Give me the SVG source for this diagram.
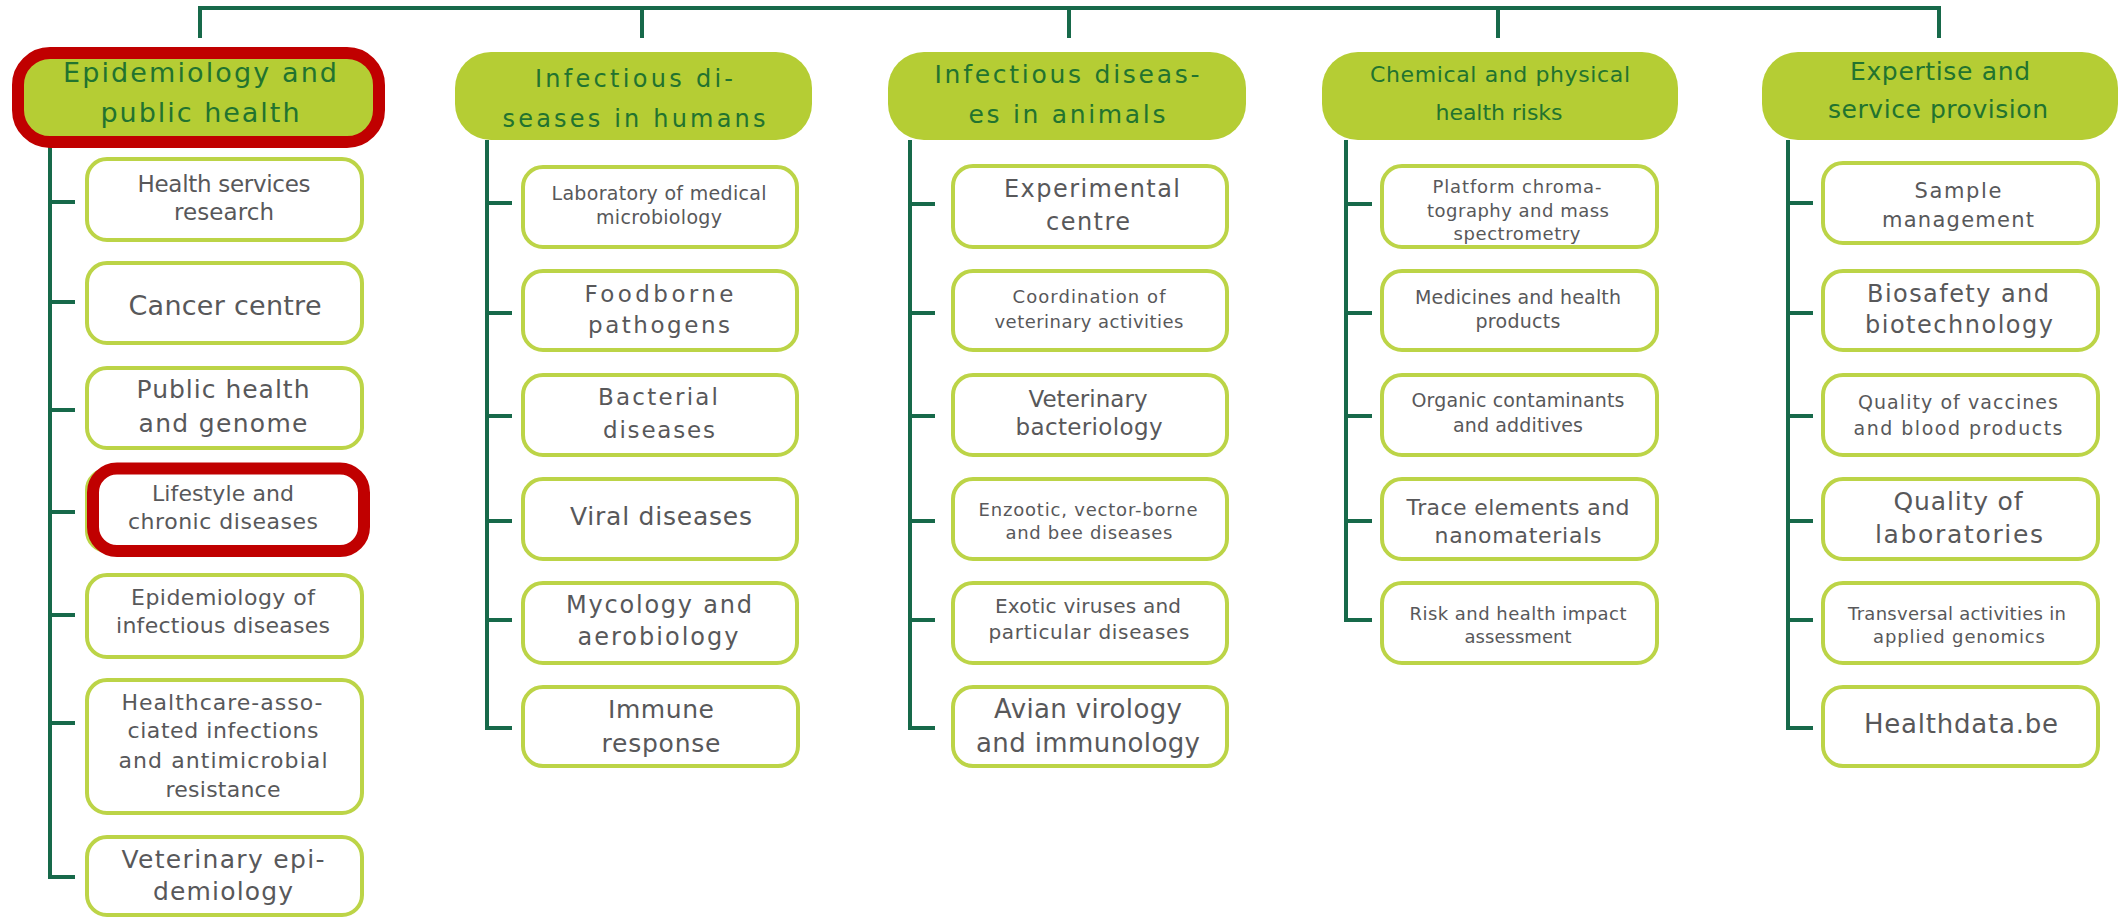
<svg xmlns="http://www.w3.org/2000/svg" width="2118" height="917" viewBox="0 0 2118 917">
<style>
  .bg{fill:#ffffff}
  .conn{fill:none;stroke:#17694a;stroke-width:4;stroke-linecap:butt;stroke-linejoin:miter}
  .head{fill:#b5cd34}
  .sub{fill:#ffffff;stroke:#bcd447;stroke-width:4}
  .hl{fill:none;stroke:#c00000;stroke-width:12}
  .ht{font-family:"DejaVu Sans","Liberation Sans",sans-serif;fill:#22732f;text-anchor:middle}
  .st{font-family:"DejaVu Sans","Liberation Sans",sans-serif;fill:#58585a;text-anchor:middle}
</style>
<rect class="bg" x="0" y="0" width="2118" height="917"/>

<g id="connectors">
  <path class="conn" d="M200 38 V8 H1939 V38"/>
  <path class="conn" d="M642 8 V38"/>
  <path class="conn" d="M1069 8 V38"/>
  <path class="conn" d="M1498 8 V38"/>
  <!-- column 1 -->
  <path class="conn" d="M50 142 V877 H75"/>
  <path class="conn" d="M50 202 H75 M50 302 H75 M50 410 H75 M50 512 H75 M50 615 H75 M50 723 H75"/>
  <!-- column 2 -->
  <path class="conn" d="M487 140 V728 H512"/>
  <path class="conn" d="M487 203 H512 M487 313 H512 M487 416 H512 M487 521 H512 M487 620 H512"/>
  <!-- column 3 -->
  <path class="conn" d="M910 140 V728 H935"/>
  <path class="conn" d="M910 204 H935 M910 313 H935 M910 416 H935 M910 521 H935 M910 620 H935"/>
  <!-- column 4 -->
  <path class="conn" d="M1346 140 V620 H1372"/>
  <path class="conn" d="M1346 204 H1372 M1346 313 H1372 M1346 416 H1372 M1346 521 H1372"/>
  <!-- column 5 -->
  <path class="conn" d="M1788 140 V728 H1813"/>
  <path class="conn" d="M1788 203 H1813 M1788 313 H1813 M1788 416 H1813 M1788 521 H1813 M1788 620 H1813"/>
</g>

<!-- Column 1 -->
<g id="h-epidemiology">
  <rect class="head" x="21" y="52" width="357" height="88" rx="36"/>
  <text class="ht" x="200" y="82" font-size="27" textLength="274" lengthAdjust="spacing">Epidemiology and</text>
  <text class="ht" x="200" y="122" font-size="27" textLength="199" lengthAdjust="spacing">public health</text>
  <rect class="hl" x="18" y="53" width="361" height="89" rx="32"/>
</g>
<g id="n-health-services">
  <rect class="sub" x="87" y="159" width="275" height="81" rx="20"/>
  <text class="st" x="224" y="192" font-size="23" textLength="173" lengthAdjust="spacing">Health services</text>
  <text class="st" x="224" y="220" font-size="23" textLength="100" lengthAdjust="spacing">research</text>
</g>
<g id="n-cancer">
  <rect class="sub" x="87" y="263" width="275" height="80" rx="20"/>
  <text class="st" x="225" y="315" font-size="27" textLength="193" lengthAdjust="spacing">Cancer centre</text>
</g>
<g id="n-public-genome">
  <rect class="sub" x="87" y="368" width="275" height="80" rx="20"/>
  <text class="st" x="223" y="398" font-size="25" textLength="173" lengthAdjust="spacing">Public health</text>
  <text class="st" x="223" y="432" font-size="25" textLength="169" lengthAdjust="spacing">and genome</text>
</g>
<g id="n-lifestyle">
  <rect class="sub" x="87" y="470" width="275" height="81" rx="20"/>
  <text class="st" x="223" y="501" font-size="22" textLength="142" lengthAdjust="spacing">Lifestyle and</text>
  <text class="st" x="223" y="529" font-size="22" textLength="190" lengthAdjust="spacing">chronic diseases</text>
  <rect class="hl" x="93" y="468.5" width="271" height="82.5" rx="24"/>
</g>
<g id="n-epi-infectious">
  <rect class="sub" x="87" y="575" width="275" height="82" rx="20"/>
  <text class="st" x="223" y="605" font-size="22" textLength="184" lengthAdjust="spacing">Epidemiology of</text>
  <text class="st" x="223" y="633" font-size="22" textLength="214" lengthAdjust="spacing">infectious diseases</text>
</g>
<g id="n-healthcare">
  <rect class="sub" x="87" y="680" width="275" height="133" rx="20"/>
  <text class="st" x="222" y="710" font-size="22" textLength="201" lengthAdjust="spacing">Healthcare-asso-</text>
  <text class="st" x="223" y="738" font-size="22" textLength="191" lengthAdjust="spacing">ciated infections</text>
  <text class="st" x="223" y="768" font-size="22" textLength="209" lengthAdjust="spacing">and antimicrobial</text>
  <text class="st" x="223" y="797" font-size="22" textLength="115" lengthAdjust="spacing">resistance</text>
</g>
<g id="n-vet-epi">
  <rect class="sub" x="87" y="837" width="275" height="78" rx="20"/>
  <text class="st" x="223" y="868" font-size="25" textLength="203" lengthAdjust="spacing">Veterinary epi-</text>
  <text class="st" x="223" y="900" font-size="25" textLength="140" lengthAdjust="spacing">demiology</text>
</g>

<!-- Column 2 -->
<g id="h-inf-humans">
  <rect class="head" x="455" y="52" width="357" height="88" rx="36"/>
  <text class="ht" x="634" y="87" font-size="24" textLength="198" lengthAdjust="spacing">Infectious di-</text>
  <text class="ht" x="634" y="127" font-size="24" textLength="263" lengthAdjust="spacing">seases in humans</text>
</g>
<g id="n-lab-micro">
  <rect class="sub" x="523" y="167" width="274" height="80" rx="20"/>
  <text class="st" x="659" y="200" font-size="19" textLength="215" lengthAdjust="spacing">Laboratory of medical</text>
  <text class="st" x="659" y="224" font-size="19" textLength="126" lengthAdjust="spacing">microbiology</text>
</g>
<g id="n-foodborne">
  <rect class="sub" x="523" y="271" width="274" height="79" rx="20"/>
  <text class="st" x="659" y="302" font-size="23" textLength="149" lengthAdjust="spacing">Foodborne</text>
  <text class="st" x="659" y="333" font-size="23" textLength="142" lengthAdjust="spacing">pathogens</text>
</g>
<g id="n-bacterial">
  <rect class="sub" x="523" y="375" width="274" height="80" rx="20"/>
  <text class="st" x="658" y="405" font-size="23" textLength="120" lengthAdjust="spacing">Bacterial</text>
  <text class="st" x="659" y="438" font-size="23" textLength="112" lengthAdjust="spacing">diseases</text>
</g>
<g id="n-viral">
  <rect class="sub" x="523" y="479" width="274" height="80" rx="20"/>
  <text class="st" x="661" y="525" font-size="25" textLength="182" lengthAdjust="spacing">Viral diseases</text>
</g>
<g id="n-mycology">
  <rect class="sub" x="523" y="583" width="274" height="80" rx="20"/>
  <text class="st" x="659" y="613" font-size="24" textLength="186" lengthAdjust="spacing">Mycology and</text>
  <text class="st" x="658" y="645" font-size="24" textLength="161" lengthAdjust="spacing">aerobiology</text>
</g>
<g id="n-immune">
  <rect class="sub" x="523" y="687" width="275" height="79" rx="20"/>
  <text class="st" x="661" y="718" font-size="25" textLength="106" lengthAdjust="spacing">Immune</text>
  <text class="st" x="661" y="752" font-size="25" textLength="119" lengthAdjust="spacing">response</text>
</g>

<!-- Column 3 -->
<g id="h-inf-animals">
  <rect class="head" x="888" y="52" width="358" height="88" rx="36"/>
  <text class="ht" x="1067" y="83" font-size="25" textLength="265" lengthAdjust="spacing">Infectious diseas-</text>
  <text class="ht" x="1067" y="123" font-size="25" textLength="197" lengthAdjust="spacing">es in animals</text>
</g>
<g id="n-experimental">
  <rect class="sub" x="953" y="166" width="274" height="81" rx="20"/>
  <text class="st" x="1092" y="197" font-size="24" textLength="176" lengthAdjust="spacing">Experimental</text>
  <text class="st" x="1088" y="230" font-size="24" textLength="84" lengthAdjust="spacing">centre</text>
</g>
<g id="n-coordination">
  <rect class="sub" x="953" y="271" width="274" height="79" rx="20"/>
  <text class="st" x="1089" y="303" font-size="18" textLength="153" lengthAdjust="spacing">Coordination of</text>
  <text class="st" x="1089" y="328" font-size="18" textLength="189" lengthAdjust="spacing">veterinary activities</text>
</g>
<g id="n-vet-bact">
  <rect class="sub" x="953" y="375" width="274" height="80" rx="20"/>
  <text class="st" x="1088" y="407" font-size="23" textLength="119" lengthAdjust="spacing">Veterinary</text>
  <text class="st" x="1089" y="435" font-size="23" textLength="147" lengthAdjust="spacing">bacteriology</text>
</g>
<g id="n-enzootic">
  <rect class="sub" x="953" y="479" width="274" height="80" rx="20"/>
  <text class="st" x="1088" y="516" font-size="18" textLength="219" lengthAdjust="spacing">Enzootic, vector-borne</text>
  <text class="st" x="1089" y="539" font-size="18" textLength="167" lengthAdjust="spacing">and bee diseases</text>
</g>
<g id="n-exotic">
  <rect class="sub" x="953" y="583" width="274" height="80" rx="20"/>
  <text class="st" x="1088" y="613" font-size="20" textLength="186" lengthAdjust="spacing">Exotic viruses and</text>
  <text class="st" x="1089" y="639" font-size="20" textLength="201" lengthAdjust="spacing">particular diseases</text>
</g>
<g id="n-avian">
  <rect class="sub" x="953" y="687" width="274" height="79" rx="20"/>
  <text class="st" x="1088" y="718" font-size="26" textLength="188" lengthAdjust="spacing">Avian virology</text>
  <text class="st" x="1088" y="752" font-size="26" textLength="224" lengthAdjust="spacing">and immunology</text>
</g>

<!-- Column 4 -->
<g id="h-chemical">
  <rect class="head" x="1322" y="52" width="356" height="88" rx="36"/>
  <text class="ht" x="1500" y="82" font-size="22" textLength="260" lengthAdjust="spacing">Chemical and physical</text>
  <text class="ht" x="1499" y="120" font-size="22" textLength="127" lengthAdjust="spacing">health risks</text>
</g>
<g id="n-platform">
  <rect class="sub" x="1382" y="166" width="275" height="81" rx="20"/>
  <text class="st" x="1517" y="193" font-size="18" textLength="169" lengthAdjust="spacing">Platform chroma-</text>
  <text class="st" x="1518" y="217" font-size="18" textLength="182" lengthAdjust="spacing">tography and mass</text>
  <text class="st" x="1517" y="240" font-size="18" textLength="127" lengthAdjust="spacing">spectrometry</text>
</g>
<g id="n-medicines">
  <rect class="sub" x="1382" y="271" width="275" height="79" rx="20"/>
  <text class="st" x="1518" y="304" font-size="19" textLength="206" lengthAdjust="spacing">Medicines and health</text>
  <text class="st" x="1518" y="328" font-size="19" textLength="85" lengthAdjust="spacing">products</text>
</g>
<g id="n-organic">
  <rect class="sub" x="1382" y="375" width="275" height="80" rx="20"/>
  <text class="st" x="1518" y="407" font-size="19" textLength="213" lengthAdjust="spacing">Organic contaminants</text>
  <text class="st" x="1518" y="432" font-size="19" textLength="130" lengthAdjust="spacing">and additives</text>
</g>
<g id="n-trace">
  <rect class="sub" x="1382" y="479" width="275" height="80" rx="20"/>
  <text class="st" x="1518" y="515" font-size="22" textLength="223" lengthAdjust="spacing">Trace elements and</text>
  <text class="st" x="1518" y="543" font-size="22" textLength="167" lengthAdjust="spacing">nanomaterials</text>
</g>
<g id="n-risk">
  <rect class="sub" x="1382" y="583" width="275" height="80" rx="20"/>
  <text class="st" x="1518" y="620" font-size="18" textLength="217" lengthAdjust="spacing">Risk and health impact</text>
  <text class="st" x="1518" y="643" font-size="18" textLength="107" lengthAdjust="spacing">assessment</text>
</g>

<!-- Column 5 -->
<g id="h-expertise">
  <rect class="head" x="1762" y="52" width="356" height="88" rx="36"/>
  <text class="ht" x="1940" y="80" font-size="25" textLength="180" lengthAdjust="spacing">Expertise and</text>
  <text class="ht" x="1938" y="118" font-size="25" textLength="220" lengthAdjust="spacing">service provision</text>
</g>
<g id="n-sample">
  <rect class="sub" x="1823" y="163" width="275" height="80" rx="20"/>
  <text class="st" x="1958" y="198" font-size="21" textLength="87" lengthAdjust="spacing">Sample</text>
  <text class="st" x="1958" y="227" font-size="21" textLength="152" lengthAdjust="spacing">management</text>
</g>
<g id="n-biosafety">
  <rect class="sub" x="1823" y="271" width="275" height="79" rx="20"/>
  <text class="st" x="1958" y="302" font-size="24" textLength="182" lengthAdjust="spacing">Biosafety and</text>
  <text class="st" x="1959" y="333" font-size="24" textLength="188" lengthAdjust="spacing">biotechnology</text>
</g>
<g id="n-vaccines">
  <rect class="sub" x="1823" y="375" width="275" height="80" rx="20"/>
  <text class="st" x="1958" y="409" font-size="19" textLength="200" lengthAdjust="spacing">Quality of vaccines</text>
  <text class="st" x="1958" y="435" font-size="19" textLength="209" lengthAdjust="spacing">and blood products</text>
</g>
<g id="n-quality-labs">
  <rect class="sub" x="1823" y="479" width="275" height="80" rx="20"/>
  <text class="st" x="1958" y="510" font-size="25" textLength="129" lengthAdjust="spacing">Quality of</text>
  <text class="st" x="1959" y="543" font-size="25" textLength="168" lengthAdjust="spacing">laboratories</text>
</g>
<g id="n-transversal">
  <rect class="sub" x="1823" y="583" width="275" height="80" rx="20"/>
  <text class="st" x="1957" y="620" font-size="18" textLength="218" lengthAdjust="spacing">Transversal activities in</text>
  <text class="st" x="1959" y="643" font-size="18" textLength="172" lengthAdjust="spacing">applied genomics</text>
</g>
<g id="n-healthdata">
  <rect class="sub" x="1823" y="687" width="275" height="79" rx="20"/>
  <text class="st" x="1961" y="733" font-size="26" textLength="194" lengthAdjust="spacing">Healthdata.be</text>
</g>
</svg>
